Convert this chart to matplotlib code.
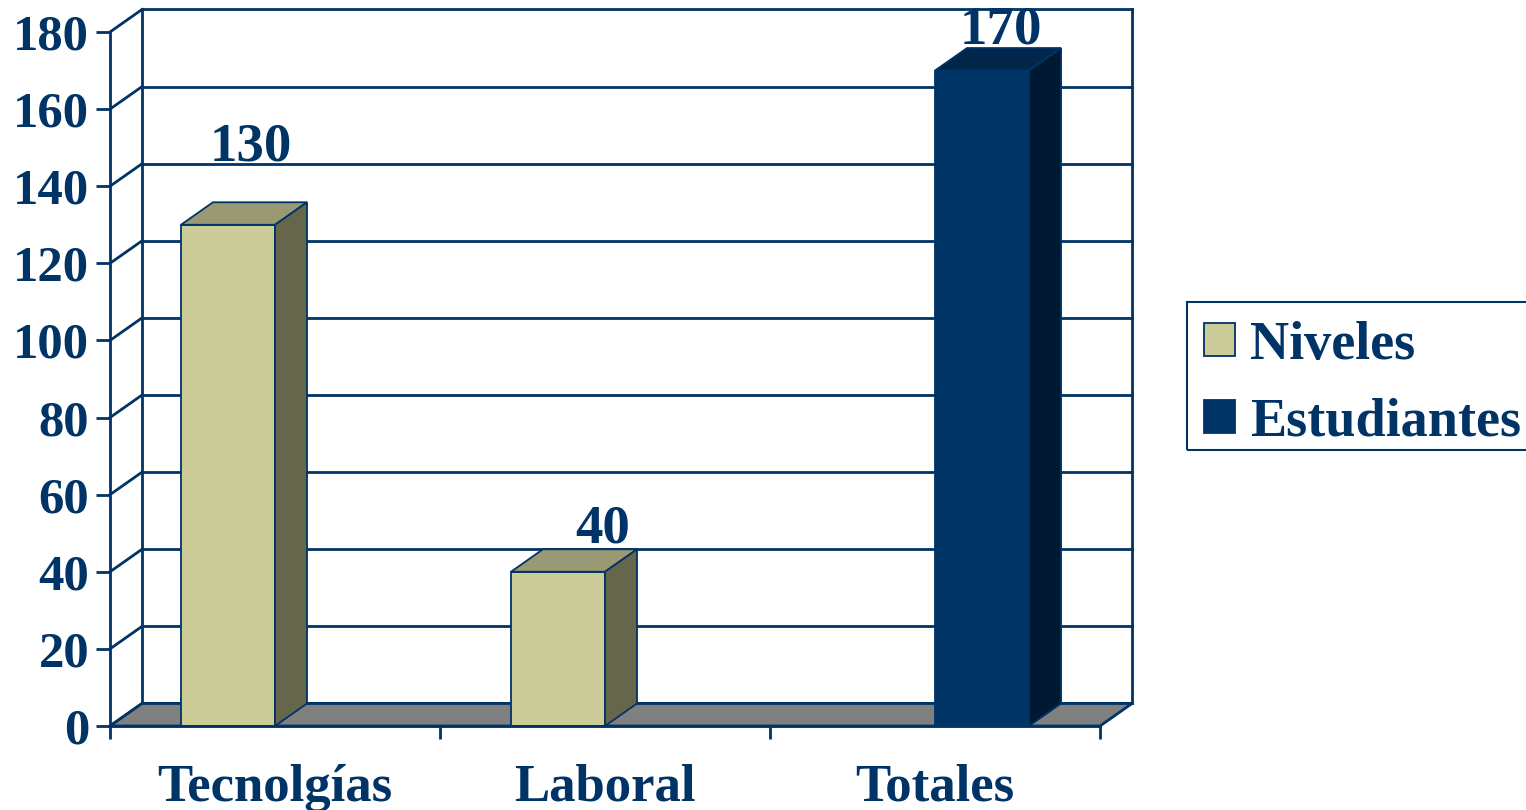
import matplotlib.pyplot as plt
from matplotlib.patches import Polygon, Patch, Rectangle

categories = ['Tecnolgías', 'Laboral', 'Totales']
niveles = [130, 40, 0]
estudiantes = [0, 0, 170]
series_names = ['Niveles', 'Estudiantes']
y_ticks = [0, 20, 40, 60, 80, 100, 120, 140, 160, 180]

navy = '#003366'
font = 'Liberation Serif'
# front, top, side shades for each series
shades = [('#CCCC99', '#999973', '#66664C'), ('#003366', '#00264C', '#001933')]
# label offsets in points (Excel puts the 3d labels a bit oddly)
label_offsets = {(0, 0): (-6.5, 30), (0, 1): (9.4, 5), (1, 2): (-9.4, 3.6)}

W = 0.285     # bar width in category units
DX = 0.097    # depth of the 3d box, x
DY = 5.84     # depth of the 3d box, y

fig = plt.figure(figsize=(15.26, 8.10), dpi=100)
ax = fig.add_axes([110 / 1526, 84 / 810, 990 / 1526, 694 / 810])
ax.set_xlim(-0.5, 2.5)
ax.set_ylim(0, 180)


def wall(ax):
    left = -0.5 + DX
    right = 2.5 + DX
    for v in y_ticks:
        ax.plot([left, right], [v + DY, v + DY], color=navy, lw=2, zorder=1, clip_on=False)
        ax.plot([-0.5, left], [v, v + DY], color=navy, lw=2, zorder=1, clip_on=False)
    ax.plot([left, left], [DY, 180 + DY], color=navy, lw=2, zorder=1, clip_on=False)
    ax.plot([right, right], [DY, 180 + DY], color=navy, lw=2, zorder=1, clip_on=False)
    floor = Polygon([(-0.5, 0), (2.5, 0), (right, DY), (left, DY)], closed=True,
                    facecolor='#808080', edgecolor=navy, lw=2, zorder=2, clip_on=False)
    ax.add_patch(floor)


def bars3d(ax, values, s):
    front, top, side = shades[s]
    for i, v in enumerate(values):
        if v == 0:
            continue
        x0 = i - W + s * W
        ax.bar(x0, v, width=W, align='edge', color=front, edgecolor=navy, lw=1.3, zorder=3)
        t = Polygon([(x0, v), (x0 + W, v), (x0 + W + DX, v + DY), (x0 + DX, v + DY)],
                    facecolor=top, edgecolor=navy, lw=1.3, zorder=3, clip_on=False)
        sd = Polygon([(x0 + W, 0), (x0 + W + DX, DY), (x0 + W + DX, v + DY), (x0 + W, v)],
                     facecolor=side, edgecolor=navy, lw=1.3, zorder=3, clip_on=False)
        ax.add_patch(t)
        ax.add_patch(sd)
        off = label_offsets.get((s, i), (0, 5))
        ax.annotate(str(v), (x0 + W / 2 + DX, v + DY), xytext=off, textcoords='offset points',
                    ha='center', va='baseline', fontsize=39.5, fontweight='bold',
                    family=font, color=navy, annotation_clip=False, zorder=5)


wall(ax)
bars3d(ax, niveles, 0)
bars3d(ax, estudiantes, 1)

for sp in ['top', 'right']:
    ax.spines[sp].set_visible(False)
for sp in ['left', 'bottom']:
    ax.spines[sp].set_color(navy)
    ax.spines[sp].set_linewidth(2)
    ax.spines[sp].set_zorder(4)

ax.set_yticks(y_ticks)
ax.set_yticklabels([str(v) for v in y_ticks])
ax.tick_params(axis='y', direction='out', length=10, width=2, color=navy, pad=5,
               labelsize=36.5, labelcolor=navy)
ax.set_xticks([-0.5, 0.5, 1.5, 2.5])
ax.set_xticklabels([])
ax.tick_params(axis='x', which='major', direction='out', length=9, width=2, color=navy)
ax.set_xticks([0, 1, 2], minor=True)
ax.set_xticklabels(categories, minor=True)
ax.tick_params(axis='x', which='minor', length=0, pad=27, labelsize=38, labelcolor=navy)
for lab in ax.get_yticklabels() + ax.get_xticklabels(minor=True):
    lab.set_family(font)
    lab.set_fontweight('bold')

# legend box runs off the right edge like in the slide
box = Rectangle((1187 / 1526, 1 - 450 / 810), 0.3, 148 / 810, transform=fig.transFigure,
                fill=False, edgecolor=navy, lw=1.5)
fig.patches.append(box)
handles = [Patch(facecolor=shades[k][0], edgecolor=navy, lw=1.3) for k in range(2)]
leg = fig.legend(handles, series_names, loc='upper left',
                 bbox_to_anchor=(1182 / 1526, 1 - 299 / 810),
                 prop={'family': font, 'weight': 'bold', 'size': 39},
                 labelcolor=navy, frameon=False,
                 handlelength=0.58, handleheight=0.58, handletextpad=0.28,
                 borderpad=0.4, borderaxespad=0, labelspacing=0.5)

fig.savefig('out.png', dpi=100)
